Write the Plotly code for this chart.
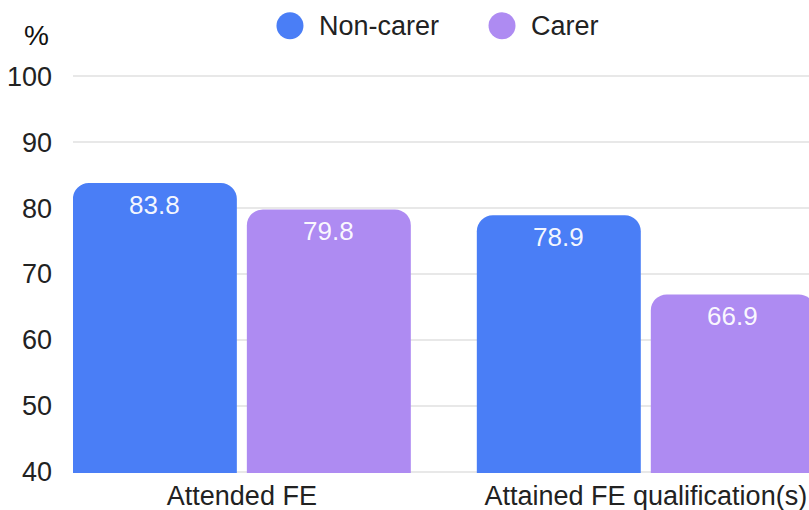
import plotly.graph_objects as go

categories = ["Attended FE", "Attained FE qualification(s)"]
non_carer = [83.8, 78.9]
carer = [79.8, 66.9]
series_names = ["Non-carer", "Carer"]
y_ticks = [40, 50, 60, 70, 80, 90, 100]

BLUE = "#4a7ef6"
PURPLE = "#ae8bf2"
FONT = "Liberation Sans, Arial, sans-serif"

fig = go.Figure()

# bars sit +-87px from the category centre (half of a bar slot)
for name, vals, col, shift in zip(series_names, [non_carer, carer], [BLUE, PURPLE], [-87, 87]):
    fig.add_trace(go.Bar(x=categories, y=vals, name=name,
                         marker=dict(color=col, cornerradius=16, line=dict(width=0)),
                         cliponaxis=True,
                         showlegend=False))
    for cat, v in zip(categories, vals):
        fig.add_annotation(x=cat, y=v, text=f"{v:.1f}", xref="x", yref="y",
                           xshift=shift, yshift=-5, xanchor="center", yanchor="top",
                           showarrow=False,
                           font=dict(size=26, color="rgba(255,255,255,0.95)", family=FONT))

# legend drawn by hand so the dots can be large circles
legend_x = [0.2948, 0.5829]
for name, col, lx in zip(series_names, [BLUE, PURPLE], legend_x):
    fig.add_shape(type="circle", xref="paper", yref="paper",
                  xsizemode="pixel", ysizemode="pixel",
                  xanchor=lx, yanchor=1.1237,
                  x0=-13.5, x1=13.5, y0=-13.5, y1=13.5,
                  fillcolor=col, line=dict(width=0))
    fig.add_annotation(text=name, xref="paper", yref="paper",
                       x=lx + 0.0367, y=1.1237, xanchor="left", yanchor="middle",
                       showarrow=False, font=dict(size=27, color="#222", family=FONT))

fig.add_annotation(text="%", xref="paper", yref="paper", x=-0.049, y=1.098,
                   xanchor="center", yanchor="middle", showarrow=False,
                   font=dict(size=28, color="#111", family=FONT))

fig.update_layout(
    width=809, height=510,
    margin=dict(l=73, r=0, t=75, b=37),
    paper_bgcolor="white", plot_bgcolor="white",
    barmode="group", bargap=0.1386, bargroupgap=0.0575,
    showlegend=False,
    font=dict(family=FONT, size=27, color="#222"),
    xaxis=dict(range=[-0.418, 1.404], showgrid=False, showline=False,
               ticks="", ticklabelstandoff=4, tickfont=dict(size=27, color="#222")),
    yaxis=dict(range=[39.8, 100.2], tickvals=y_ticks, showgrid=True,
               gridcolor="#e8e8e8", gridwidth=1.5, zeroline=False,
               showline=False, ticks="", ticklabelstandoff=20,
               tickfont=dict(size=27, color="#222")),
)

# drop the default 8px page margin so the figure fills the window
fig.write_html("out.html", config={"displayModeBar": False},
               post_script="document.body.style.margin='0';document.body.style.overflow='hidden';")
